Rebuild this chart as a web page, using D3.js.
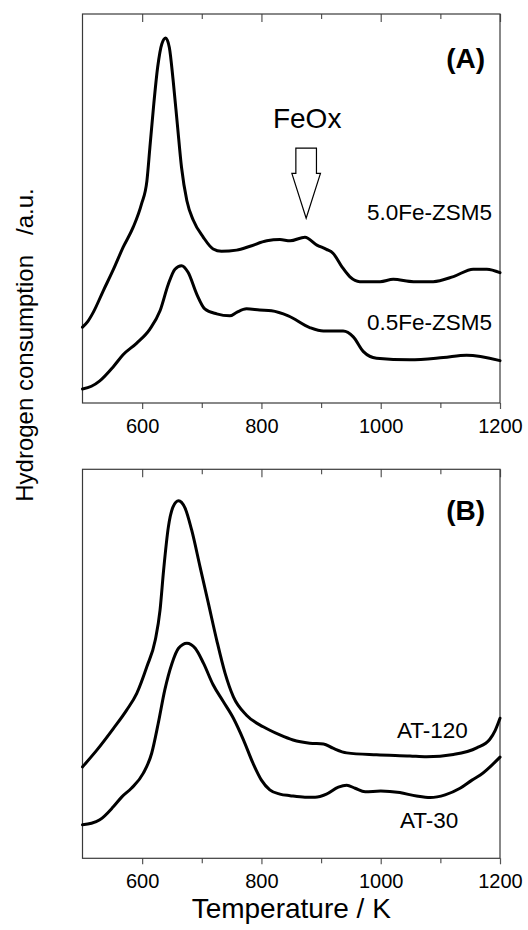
<!DOCTYPE html>
<html>
<head>
<meta charset="utf-8">
<script src="https://cdn.jsdelivr.net/npm/d3@7"></script>
<style>
  html, body { margin: 0; padding: 0; background: #fff; }
  svg { display: block; }
  text { font-family: "Liberation Sans", Arial, Helvetica, sans-serif; fill: #000; }
</style>
</head>
<body>
<svg id="chart" width="528" height="930"></svg>
<script>
// ---------- DATA ----------
const xTicksMajor = [600, 800, 1000, 1200];
const xTicksMinor = [700, 900, 1100];
const xDomain = [500, 1200];

// Panel A: 5.0Fe-ZSM5 (temperature K, H2 consumption a.u.)
const fe50T = [500,509,518,535,552,568,585,599,608,613,619,626,633,639.5,645.6,652,659,666,675,686,702.6,719,733,758.5,781,809,831,848,873,893,909,920,935,948,965,999,1021,1055,1088,1122,1155,1178,1200];
const fe50V = [19.5,21.0,23.3,28.9,34.4,40.0,45.2,51.2,57.1,65.7,76.0,86.3,92.3,93.8,91.4,82.9,71.7,60.6,52.0,46.9,42.6,39.6,39.0,39.3,40.3,41.7,42.0,41.7,42.6,40.6,39.5,38.5,35.0,32.5,31.2,31.2,31.8,31.2,31.2,32.5,34.4,34.4,33.5];

// Panel A: 0.5Fe-ZSM5
const fe05T = [500,515,529,552,568,591,613,630,644,655,666,677,691.5,705,725,747,758.5,775,797,817,845,881,904,937,954,971,993,1049,1105,1144,1200];
const fe05V = [3.6,4.3,5.7,9.4,12.4,15.4,19.0,23.7,30.6,34.4,35.3,33.6,28.0,24.2,22.9,22.4,23.3,24.2,23.9,23.7,22.4,19.4,18.5,18.5,17.0,13.2,11.5,11.1,11.7,12.3,10.9];

// Panel B: AT-120
const at120T = [500,524,552,574,591,608,622,630,636,644,652,661,672,683,697,711,725,739,753,775,803,831,853,881,904,920,943,993,1049,1077,1122,1161,1183,1192,1200];
const at120V = [23.5,27.8,33.4,38.1,42.4,49.3,56.1,63.8,74.1,85.2,90.4,91.9,90.0,84.4,75.0,65.6,56.1,47.6,41.5,36.8,33.8,31.7,30.4,29.6,29.4,28.3,27.1,26.6,26.3,26.1,26.7,28.4,30.6,32.9,36.0];

// Panel B: AT-30
const at30T = [500,515,529,552,566,582,602,616,627,638,650,661,675,689,703,719,736,753,770,786,800,814,831,848,873,890,909,929,943,957,974,1000,1032,1060,1083,1108,1133,1153,1167,1200];
const at30V = [8.6,9.0,9.9,13.3,15.8,18.0,21.9,27.0,34.7,43.3,50.1,54.0,55.3,54.0,50.1,44.6,40.3,36.0,30.4,24.4,20.1,17.6,16.5,16.1,15.7,15.7,16.5,18.3,18.8,18.0,17.1,17.3,16.9,16.0,15.6,16.3,18.0,20.1,21.4,26.0];

// Annotation: FeOx arrow (temperature, tip value, top value)
const feoxArrow = { T: 875, tip: 47.5, top: 65.5 };

// ---------- LAYOUT ----------
const svg = d3.select("#chart");
const left = 82.5, right = 500;
const panels = [
  { top: 14, bottom: 403, label: "(A)", labelY: 68,
    series: [[fe50T, fe50V], [fe05T, fe05V]],
    names: [{ text: "5.0Fe-ZSM5", x: 367, y: 220 }, { text: "0.5Fe-ZSM5", x: 367, y: 330 }],
    tickLabelY: 432.5 },
  { top: 469.3, bottom: 858.3, label: "(B)", labelY: 520,
    series: [[at120T, at120V], [at30T, at30V]],
    names: [{ text: "AT-120", x: 397, y: 738 }, { text: "AT-30", x: 400, y: 828 }],
    tickLabelY: 888 }
];

const x = d3.scaleLinear().domain(xDomain).range([left, right]);

panels.forEach((p, i) => {
  const y = d3.scaleLinear().domain([0, 100]).range([p.bottom, p.top]);
  const g = svg.append("g");

  // top ticks (inward)
  const topAxis = g.append("g").attr("transform", `translate(0,${p.top})`)
    .call(d3.axisTop(x).tickValues(xTicksMajor).tickSize(-8).tickFormat(""));
  const topMinor = g.append("g").attr("transform", `translate(0,${p.top})`)
    .call(d3.axisTop(x).tickValues(xTicksMinor).tickSize(-5).tickFormat(""));
  // bottom ticks (outward)
  const botAxis = g.append("g").attr("transform", `translate(0,${p.bottom})`)
    .call(d3.axisBottom(x).tickValues(xTicksMajor).tickSize(6).tickPadding(0).tickFormat(d3.format("d")));
  const botMinor = g.append("g").attr("transform", `translate(0,${p.bottom})`)
    .call(d3.axisBottom(x).tickValues(xTicksMinor).tickSize(5).tickFormat(""));
  [topAxis, topMinor, botAxis, botMinor].forEach(a => {
    a.select(".domain").remove();
    a.selectAll(".tick line").attr("stroke", "#555").attr("stroke-width", 1.2);
  });
  botAxis.selectAll(".tick text")
    .attr("dy", null)
    .attr("y", p.tickLabelY - p.bottom)
    .style("font-size", "20px").style("font-family", '"Liberation Sans", Arial, sans-serif')
    .attr("fill", "#000");

  // frame
  g.append("rect")
    .attr("x", left).attr("y", p.top)
    .attr("width", right - left).attr("height", p.bottom - p.top)
    .attr("fill", "none").attr("stroke", "#3a3a3a").attr("stroke-width", 1.2);

  // curves
  const line = d3.line()
    .x(d => x(d[0])).y(d => y(d[1]))
    .curve(d3.curveMonotoneX);
  p.series.forEach(([T, V]) => {
    g.append("path")
      .datum(T.map((t, k) => [t, V[k]]))
      .attr("d", line)
      .attr("fill", "none").attr("stroke", "#000")
      .attr("stroke-width", 3).attr("stroke-linejoin", "round").attr("stroke-linecap", "round");
  });

  // panel label
  g.append("text").attr("x", 485).attr("y", p.labelY)
    .attr("text-anchor", "end").style("font-size", "28px").style("font-weight", "bold")
    .text(p.label);

  // series names
  p.names.forEach(n => {
    g.append("text").attr("x", n.x).attr("y", n.y)
      .style("font-size", "22.5px").text(n.text);
  });

  if (i === 0) {
    // FeOx arrow (hollow)
    const xc = x(feoxArrow.T);
    const yTip = y(feoxArrow.tip), yTop = y(feoxArrow.top);
    const shaftHalf = 10.3, headHalf = 14.3;
    const yShoulder = yTop + (yTip - yTop) * 0.36;
    const pts = [
      [xc - shaftHalf, yTop], [xc + shaftHalf, yTop], [xc + shaftHalf, yShoulder],
      [xc + headHalf, yShoulder], [xc, yTip], [xc - headHalf, yShoulder],
      [xc - shaftHalf, yShoulder]
    ];
    g.append("path")
      .attr("d", d3.line()(pts) + "Z")
      .attr("fill", "#fff").attr("stroke", "#000").attr("stroke-width", 1.2);
    g.append("text").attr("x", xc + 1).attr("y", 128)
      .attr("text-anchor", "middle").style("font-size", "28px").text("FeOx");
  }
});

// axis titles
svg.append("text")
  .attr("x", (left + right) / 2).attr("y", 918)
  .attr("text-anchor", "middle").style("font-size", "28px")
  .text("Temperature / K");

svg.append("text")
  .attr("transform", "translate(33,345) rotate(-90)")
  .attr("text-anchor", "middle").style("font-size", "24px")
  .style("white-space", "pre")
  .text("Hydrogen consumption   /a.u.");
</script>
</body>
</html>
